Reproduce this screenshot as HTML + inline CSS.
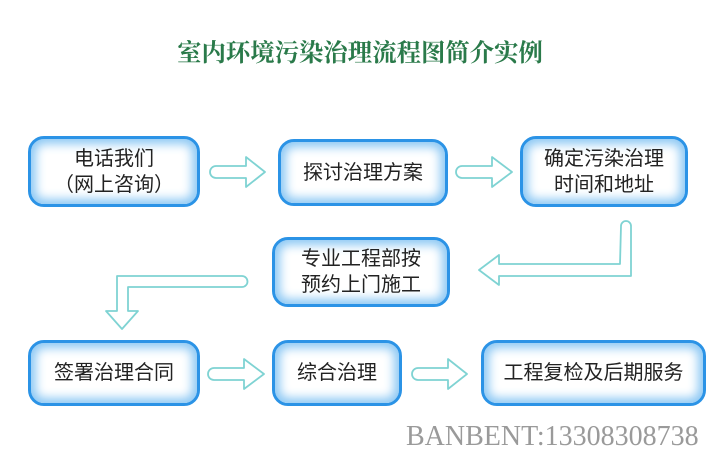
<!DOCTYPE html>
<html><head><meta charset="utf-8"><style>
body{margin:0;width:720px;height:471px;background:#fff;position:relative;overflow:hidden;font-family:"Liberation Sans","Noto Sans CJK SC",sans-serif}
.t{position:absolute;left:0;width:720px;top:33px;text-align:center;color:#2a7a4a;font-weight:bold;font-size:24.4px;font-family:"Liberation Serif","Noto Serif CJK SC",serif}
.b{position:absolute;box-sizing:border-box;border:3px solid #2b93e6;border-radius:16px;background:#fff;box-shadow:inset 0 0 10px 5px #8cc8f4;display:flex;align-items:center;justify-content:center;text-align:center;color:#222;font-size:20px;line-height:26px}
.f{position:absolute;left:406px;top:421px;font-family:"Liberation Serif",serif;font-size:28px;color:#9a9a9a}
svg{position:absolute;left:0;top:0}
</style></head><body>
<div class="t">室内环境污染治理流程图简介实例</div>
<div class="b" style="left:28px;top:136px;width:172px;height:71px">电话我们<br>（网上咨询）</div>
<div class="b" style="left:278px;top:139px;width:170px;height:67px">探讨治理方案</div>
<div class="b" style="left:520px;top:136px;width:168px;height:71px">确定污染治理<br>时间和地址</div>
<div class="b" style="left:272px;top:237px;width:178px;height:70px">专业工程部按<br>预约上门施工</div>
<div class="b" style="left:28px;top:340px;width:172px;height:66px">签署治理合同</div>
<div class="b" style="left:272px;top:340px;width:130px;height:66px">综合治理</div>
<div class="b" style="left:481px;top:340px;width:225px;height:66px">工程复检及后期服务</div>
<svg width="720" height="471" fill="#fff" stroke="#7fd3d3" stroke-width="1.8" stroke-linejoin="round">
<path d="M216 166 H246 V157 L265 172 L246 187 V178 H216 A6 6 0 0 1 216 166Z"/>
<path d="M462 166 H492 V157 L512 172 L492 187 V178 H462 A6 6 0 0 1 462 166Z"/>
<path d="M214 368 H244 V359 L264 374 L244 389 V380 H214 A6 6 0 0 1 214 368Z"/>
<path d="M418 368 H448 V359 L467 374 L448 389 V380 H418 A6 6 0 0 1 418 368Z"/>
<path d="M621 226 A5 5 0 0 1 631 226 V276 H499 V285 L479 270 L499 255 V264 H620 Z"/>
<path d="M242 276 A5 5 0 0 1 242 287 H128 V311 H138 L122 329 L106 311 H117 V276 Z"/>
</svg>
<div class="f">BANBENT:13308308738</div>
</body></html>
